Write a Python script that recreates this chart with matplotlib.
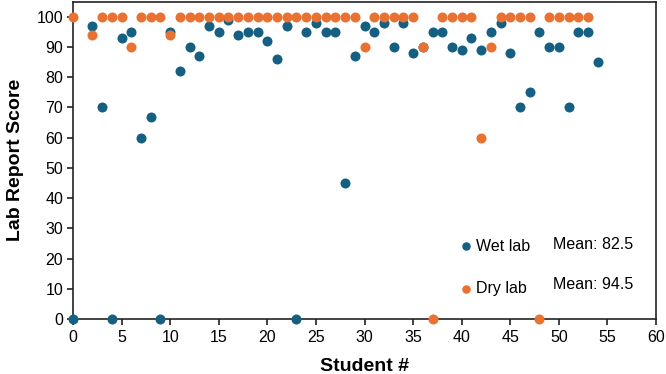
"""
Lab report scores per student, wet lab vs dry lab.
Saved to out.png
"""

import matplotlib.pyplot as plt

plt.rcParams['font.family'] = ['Liberation Sans', 'DejaVu Sans']

COLOUR_WET = '#156082'
COLOUR_DRY = '#E97132'

# ── Data ──────────────────────────────────────────────────────────────────────

wet_students = [0, 2, 3, 4, 5, 6, 7, 8, 9, 10,
                11, 12, 13, 14, 15, 16, 17, 18, 19, 20,
                21, 22, 23, 24, 25, 26, 27, 28, 29, 30,
                31, 32, 33, 34, 35, 36, 37, 38, 39, 40,
                41, 42, 43, 44, 45, 46, 47, 48, 49, 50,
                51, 52, 53, 54]
wet_scores = [0, 97, 70, 0, 93, 95, 60, 67, 0, 95,
              82, 90, 87, 97, 95, 99, 94, 95, 95, 92,
              86, 97, 0, 95, 98, 95, 95, 45, 87, 97,
              95, 98, 90, 98, 88, 90, 95, 95, 90, 89,
              93, 89, 95, 98, 88, 70, 75, 95, 90, 90,
              70, 95, 95, 85]

dry_students = [0, 2, 3, 4, 5, 6, 7, 8, 9, 10,
                11, 12, 13, 14, 15, 16, 17, 18, 19, 20,
                21, 22, 23, 24, 25, 26, 27, 28, 29, 30,
                31, 32, 33, 34, 35, 36, 37, 38, 39, 40,
                41, 42, 43, 44, 45, 46, 47, 48, 49, 50,
                51, 52, 53]
dry_scores = [100, 94, 100, 100, 100, 90, 100, 100, 100, 94,
              100, 100, 100, 100, 100, 100, 100, 100, 100, 100,
              100, 100, 100, 100, 100, 100, 100, 100, 100, 90,
              100, 100, 100, 100, 100, 90, 0, 100, 100, 100,
              100, 60, 90, 100, 100, 100, 100, 0, 100, 100,
              100, 100, 100]

series_labels = ['Wet lab', 'Dry lab']
mean_labels = ['Mean: 82.5', 'Mean: 94.5']

x_ticks = list(range(0, 61, 5))
y_ticks = list(range(0, 101, 10))

# ── Figure ────────────────────────────────────────────────────────────────────

fig = plt.figure(figsize=(6.66, 3.74), dpi=100)
ax = fig.add_axes([0.1096, 0.147, 0.8754, 0.8485])

ax.scatter(wet_students, wet_scores, s=52, color=COLOUR_WET,
           label=series_labels[0], zorder=3, clip_on=False, linewidths=0)
ax.scatter(dry_students, dry_scores, s=52, color=COLOUR_DRY,
           label=series_labels[1], zorder=3, clip_on=False, linewidths=0)

ax.set_xlim(0, 60)
ax.set_ylim(0, 105)
ax.set_xticks(x_ticks)
ax.set_yticks(y_ticks)
ax.tick_params(labelsize=11.5, length=4, width=1.2, color='#222222', pad=3)
ax.tick_params(axis='x', pad=4)

for side in ['left', 'bottom', 'top', 'right']:
    ax.spines[side].set_linewidth(1.2)
    ax.spines[side].set_color('#222222')

ax.set_xlabel('Student #', fontsize=14, fontweight='bold', labelpad=9)
ax.set_ylabel('Lab Report Score', fontsize=14, fontweight='bold', labelpad=9)

ax.legend(loc='lower left', bbox_to_anchor=(0.666, 0.071), frameon=False,
          fontsize=11.5, markerscale=0.85, handlelength=0.6, handletextpad=0.3,
          labelspacing=1.75, borderpad=0, borderaxespad=0)

ax.text(0.823, 0.236, mean_labels[0], transform=ax.transAxes,
        fontsize=11.5, va='center', ha='left')
ax.text(0.823, 0.108, mean_labels[1], transform=ax.transAxes,
        fontsize=11.5, va='center', ha='left')

fig.savefig('out.png', dpi=100)
